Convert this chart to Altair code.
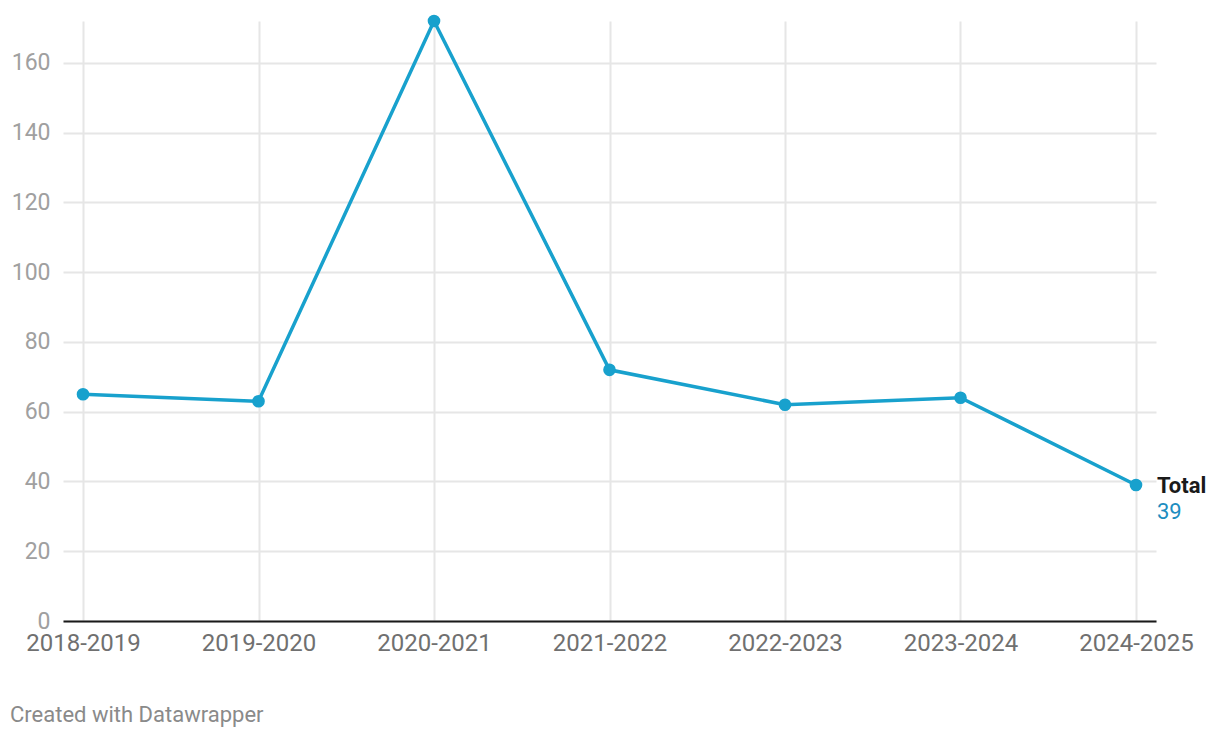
import altair as alt
import pandas as pd

seasons = ["2018-2019", "2019-2020", "2020-2021", "2021-2022", "2022-2023", "2023-2024", "2024-2025"]
totals = [65, 63, 172, 72, 62, 64, 39]
y_ticks = [0, 20, 40, 60, 80, 100, 120, 140, 160]
series_name = "Total"
credit = "Created with Datawrapper"

df = pd.DataFrame({"season": seasons, "total": totals})
last = df.tail(1).copy()
last["name"] = series_name

FONT = "Roboto"
LINE = "#18a1cd"

x = alt.X("season:O", sort=seasons, title=None,
          scale=alt.Scale(type="point", padding=0.114),
          axis=alt.Axis(labelAngle=0, labelFontSize=24, labelColor="#707070", labelFont=FONT,
                        labelPadding=10, ticks=False, grid=True, gridColor="#e6e6e6", gridWidth=2,
                        domain=True, domainColor="#1a1a1a", domainWidth=2, labelBaseline="top"))
y = alt.Y("total:Q", title=None,
          scale=alt.Scale(domain=[0, 172], nice=False, zero=True),
          axis=alt.Axis(values=y_ticks, labelFontSize=23, labelColor="#a0a0a0", labelFont=FONT,
                        labelPadding=13, ticks=False, domain=False, grid=True, gridColor="#e6e6e6",
                        gridWidth=2))

base = alt.Chart(df)
line = base.mark_line(color=LINE, strokeWidth=3.5).encode(x=x, y=y)
pts = base.mark_circle(color=LINE, size=160, opacity=1).encode(x=x, y=y)

lab1 = alt.Chart(last).mark_text(align="left", baseline="middle", dx=21, dy=1, fontSize=22,
                                 fontWeight="bold", font=FONT, color="#1a1a1a").encode(
    x=alt.X("season:O", sort=seasons), y="total:Q", text="name:N")
lab2 = alt.Chart(last).mark_text(align="left", baseline="middle", dx=21, dy=27, fontSize=22,
                                 font=FONT, color="#1d8dbf").encode(
    x=alt.X("season:O", sort=seasons), y="total:Q", text="total:Q")

cred = alt.Chart(pd.DataFrame({"t": [credit]})).mark_text(
    align="left", baseline="middle", fontSize=22, font=FONT, color="#8a8a8a").encode(
    x=alt.value(-53), y=alt.value(694), text="t:N")

chart = alt.layer(line, pts, lab1, lab2, cred).properties(
    width=1093, height=600,
    autosize=alt.AutoSizeParams(type="none"),
    padding={"left": 55, "top": 13, "right": 56, "bottom": 108},
).configure(background="white").configure_view(stroke=None, strokeWidth=0)

chart.save("out.html", embed_options={"renderer": "svg", "actions": False})
